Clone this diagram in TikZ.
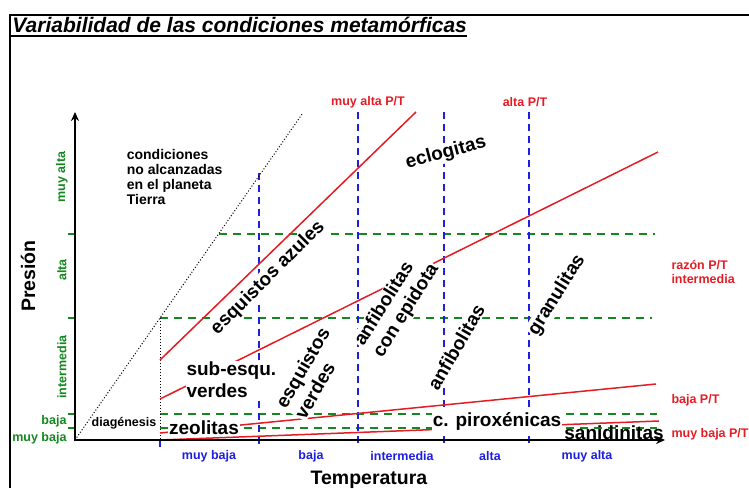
\documentclass[tikz,border=0pt]{standalone}
\usepackage{fontspec}
\setmainfont{Liberation Sans}
\usetikzlibrary{arrows.meta}

\definecolor{rojo}{RGB}{228,28,36}
\definecolor{verde}{RGB}{20,135,30}
\definecolor{azul}{RGB}{30,30,225}

\begin{document}
\begin{tikzpicture}[x=25pt, y=25pt, line width=1pt,
  roca/.style={font=\fontsize{19}{22}\selectfont\bfseries, fill=white, inner sep=1pt, align=left},
  roj/.style={text=rojo, font=\fontsize{12.5}{14}\selectfont\bfseries, inner sep=1pt},
  ver/.style={text=verde, font=\fontsize{12.5}{14}\selectfont\bfseries, inner sep=1pt},
  azu/.style={text=azul, font=\fontsize{12.5}{14}\selectfont\bfseries, inner sep=1pt},
  pt/.style={rojo, line width=1.5pt},
  lim/.style={verde, line width=1.3pt, dash pattern=on 8pt off 6pt},
  tem/.style={azul, line width=1.5pt, dash pattern=on 7pt off 5pt}]

\useasboundingbox (-3,-1.92) rectangle (26.96,17.6);

% marco y titulo
\draw[line width=2.5pt] (-2.6,-1.92) -- (-2.6,17) -- (26.96,17);
\node[anchor=base west, inner sep=0, font=\fontsize{21}{23}\selectfont\bfseries\itshape] (titulo) at (-2.52,16.28) {Variabilidad de las condiciones metamórficas};
\draw[line width=1.2pt] (-2.6,16.16) -- (titulo.base east |- 0,16.16);

% limites de presion
\draw[lim] (5.74,8.24) -- (23.2,8.24);
\draw[lim] (3.4,4.88) -- (23.08,4.88);
\draw[lim] (3.4,1.04) -- (23.28,1.04);
\draw[lim] (3.4,0.48) -- (23.28,0.48);
\foreach \y in {8.24,4.88,1.04,0.48}
  \draw[verde, line width=1.3pt] (-0.28,\y) -- (0,\y);

% limites de temperatura
\draw[tem] (3.4,0) -- (3.4,-0.3);
\draw[tem] (7.36,10.68) -- (7.36,-0.3);
\foreach \x in {11.32,14.76,18.16}
  \draw[tem] (\x,13.12) -- (\x,-0.3);

% condiciones no alcanzadas / diagenesis
\draw[dotted, line width=1pt] (0,0) -- (9.1,13.06);
\draw[dotted, line width=1pt] (3.4,4.88) -- (3.4,0);

% razones P/T
\draw[pt] (3.4,3.2) -- (13.64,13.12);
\draw[pt] (3.4,1.64) -- (23.32,11.52);
\draw[pt] (3.4,0.28) -- (23.24,2.24);
\draw[pt] (3.4,0) -- (23.36,0.76);

% facies
\node[roca, rotate=15] (eclogitas) at (14.84,11.48) {eclogitas};
\node[roca, rotate=45] (azules) at (7.72,6.48) {esquistos azules};
\node[roca, anchor=west] (subverdes) at (4.4,2.4) {sub-esqu.\\verdes};
\node[roca, rotate=60] (verdes) at (9.48,2.68) {esquistos\\verdes};
\node[roca, rotate=58] (epidota) at (12.88,5.4) {anfibolitas\\con epidota};
\node[roca, rotate=60] (anfibolitas) at (15.24,3.72) {anfibolitas};
\node[roca, rotate=58] (granulitas) at (19.28,5.8) {granulitas};
\node[roca] (piroxenicas) at (16.88,0.72) {c. piroxénicas};
\node[roca] (zeolitas) at (5.16,0.48) {zeolitas};
\node[roca, fill=none] (sanidinitas) at (21.56,0.28) {sanidinitas};

\node[font=\fontsize{12.5}{14}\selectfont\bfseries] (diagenesis) at (1.96,0.68) {diagénesis};
\node[font=\fontsize{14}{14.7}\selectfont\bfseries, anchor=west, align=left] (condiciones) at (1.92,10.52) {condiciones\\no alcanzadas\\en el planeta\\Tierra};

% ejes
\coordinate (O) at (0,0);
\coordinate (ytop) at (0,13.12);
\coordinate (xend) at (23.6,0);
\draw[line width=1.5pt, {Stealth[length=9pt,width=8pt]}-{Stealth[length=9pt,width=8pt]}] (xend) -- (O) -- (ytop);

\node[font=\fontsize{19.5}{22}\selectfont\bfseries, rotate=90] (presion) at (-1.88,6.56) {Presión};
\node[font=\fontsize{19.5}{22}\selectfont\bfseries] (temperatura) at (11.76,-1.6) {Temperatura};

\node[ver, rotate=90] (pmuyalta) at (-0.52,10.52) {muy alta};
\node[ver, rotate=90] (palta) at (-0.52,6.8) {alta};
\node[ver, rotate=90] (pinter) at (-0.52,2.92) {intermedia};
\node[ver, anchor=east] (pbaja) at (-0.28,0.76) {baja};
\node[ver, anchor=east] (pmuybaja) at (-0.28,0.08) {muy baja};

\foreach \x/\t [count=\i] in {5.36/muy baja, 9.44/baja, 13.08/intermedia, 16.6/alta, 20.48/muy alta}
  \node[azu] (temp\i) at (\x,-0.64) {\t};

\node[roj] (muyaltapt) at (11.72,13.52) {muy alta P/T};
\node[roj] (altapt) at (18,13.52) {alta P/T};
\node[roj, anchor=west, align=left] (intermediapt) at (23.8,6.72) {razón P/T\\intermedia};
\node[roj, anchor=west] (bajapt) at (23.8,1.6) {baja P/T};
\node[roj, anchor=west] (muybajapt) at (23.8,0.24) {muy baja P/T};

\end{tikzpicture}
\end{document}
